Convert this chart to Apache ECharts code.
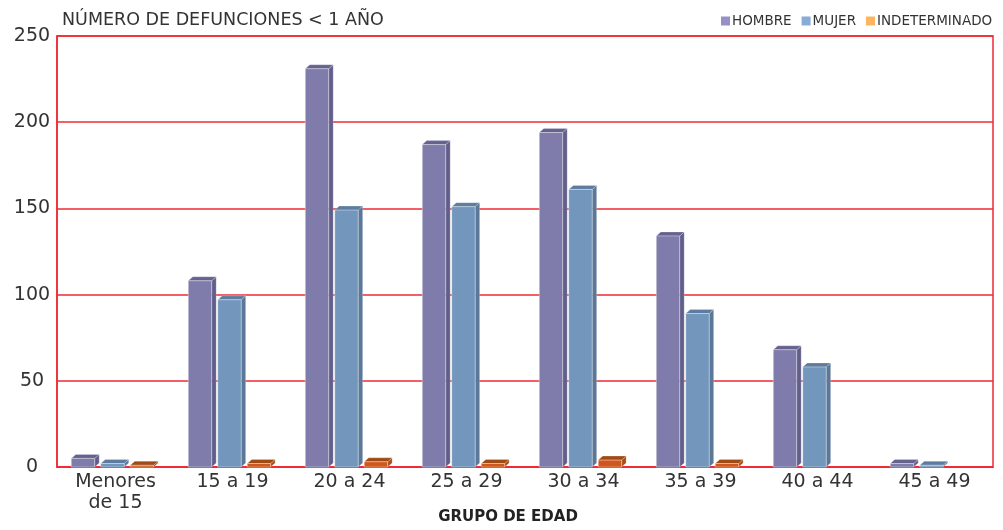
<!DOCTYPE html>
<html>
<head>
<meta charset="utf-8">
<script src="https://cdn.jsdelivr.net/npm/echarts@6/dist/echarts.min.js"></script>
<style>
html,body{margin:0;padding:0;background:#fff;}
#chart{width:1003px;height:530px;}
</style>
</head>
<body>
<div id="chart"></div>
<script>
const categories = ['Menores\nde 15', '15 a 19', '20 a 24', '25 a 29', '30 a 34', '35 a 39', '40 a 44', '45 a 49'];
const hombre = [5, 108, 231, 187, 194, 134, 68, 2];
const mujer = [2, 97, 149, 151, 161, 89, 58, 1];
const indeterminado = [1, 2, 3, 2, 4, 2, 0, 0];
const seriesNames = ['HOMBRE', 'MUJER', 'INDETERMINADO'];
const yTicks = [0, 50, 100, 150, 200, 250];
const xAxisTitle = 'GRUPO DE EDAD';

const FONT = 'DejaVu Sans';
const palettes = [
  {legend: '#9591c8', front: '#7f7baa', top: '#66628f', side: '#625e8a'},
  {legend: '#87acd7', front: '#7396bc', top: '#5e7c9f', side: '#5b7899'},
  {legend: '#fdb55f', front: '#d0561c', top: '#a04a14', side: '#a5501a'}
];

function makeRender(sIdx) {
  const pal = palettes[sIdx];
  return function (params, api) {
    const ci = api.value(0);
    const v = api.value(1);
    if (!v) return null;
    const base = api.coord([ci, 0]);
    const top = api.coord([ci, v]);
    const band = api.size([1, 0])[0];
    const slot = band * 0.252;
    const fw = band * 0.2;
    const dx = 4.5, dy = 4;
    const x0 = base[0] + (sIdx - 1.5) * slot;
    const ty = top[1], by = base[1];
    return {
      type: 'group',
      children: [
        {type: 'polygon', shape: {points: [[x0 + fw, ty], [x0 + fw + dx, ty - dy], [x0 + fw + dx, by - dy], [x0 + fw, by]]},
         style: {fill: pal.side, stroke: 'rgba(255,255,255,0.35)', lineWidth: 0.6}},
        {type: 'polygon', shape: {points: [[x0, ty], [x0 + dx, ty - dy], [x0 + fw + dx, ty - dy], [x0 + fw, ty]]},
         style: {fill: pal.top, stroke: 'rgba(255,255,255,0.35)', lineWidth: 0.6}},
        {type: 'rect', shape: {x: x0, y: ty, width: fw, height: by - ty},
         style: {fill: pal.front, stroke: 'rgba(255,255,255,0.45)', lineWidth: 0.8}}
      ]
    };
  };
}

const dataSets = [hombre, mujer, indeterminado];
const series = dataSets.map((arr, i) => ({
  name: seriesNames[i],
  type: 'custom',
  renderItem: makeRender(i),
  itemStyle: {color: palettes[i].legend},
  encode: {x: 0, y: 1},
  data: arr.map((v, k) => [k, v]),
  z: 3
}));

const chart = echarts.init(document.getElementById('chart'), null, {renderer: 'canvas'});
chart.setOption({
  animation: false,
  backgroundColor: '#ffffff',
  textStyle: {fontFamily: FONT},
  title: {
    text: 'NÚMERO DE DEFUNCIONES < 1 AÑO',
    left: 57, top: 6,
    textStyle: {fontFamily: FONT, fontSize: 17.5, fontWeight: 'normal', color: '#333'}
  },
  legend: {
    data: seriesNames,
    left: 716, top: 9,
    icon: 'rect',
    itemWidth: 9, itemHeight: 9,
    itemGap: 10,
    textStyle: {fontFamily: FONT, fontSize: 13.5, color: '#333', padding: [0, 0, 0, -3]}
  },
  graphic: [{
    type: 'text', x: 508, y: 517,
    style: {text: xAxisTitle, fontFamily: FONT, fontSize: 15, fontWeight: 'bold', fill: '#222',
      align: 'center', verticalAlign: 'middle'}
  }],
  grid: {left: 57, right: 10, top: 36, bottom: 63, show: true, borderColor: '#ee2a33', borderWidth: 1.5,
    containLabel: false, outerBoundsMode: 'none'},
  xAxis: {
    type: 'category',
    data: categories,
    axisLine: {show: true, lineStyle: {color: '#ee2a33', width: 1.5}},
    axisTick: {show: false},
    axisLabel: {fontFamily: FONT, fontSize: 19, color: '#333', margin: 5, lineHeight: 21, interval: 0}
  },
  yAxis: {
    type: 'value',
    min: 0, max: 250, interval: 50,
    axisLine: {show: true, lineStyle: {color: '#ee2a33', width: 1.5}},
    axisTick: {show: false},
    splitLine: {show: true, lineStyle: {color: '#ee2a33', width: 1.5}},
    axisLabel: {fontFamily: FONT, fontSize: 19, color: '#333', align: 'center', margin: 25,
      formatter: v => yTicks.includes(v) ? String(v) : ''}
  },
  series: series
});
</script>
</body>
</html>
